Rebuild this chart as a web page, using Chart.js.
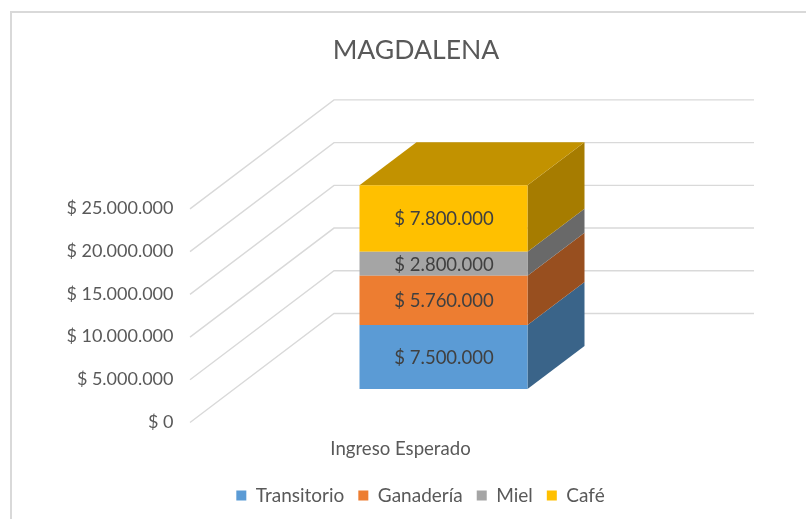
<!DOCTYPE html>
<html>
<head>
<meta charset="utf-8">
<style>html,body{margin:0;padding:0;background:#fff}canvas{display:block}</style>
<script src="https://cdn.jsdelivr.net/npm/chart.js@4"></script>
</head>
<body>
<canvas id="c" width="806" height="519"></canvas>
<script>
const categories = ['Ingreso Esperado'];
const seriesNames = ['Transitorio', 'Ganadería', 'Miel', 'Café'];
const transitorio = [7500000];
const ganaderia = [5760000];
const miel = [2800000];
const cafe = [7800000];
const frontColors = ['#5B9BD5', '#ED7D31', '#A5A5A5', '#FFC000'];
const sideColors = ['#3A6489', '#984F1F', '#696969', '#A67C00'];
const topColor = '#C29200';

const FONT = 'Lato';
const money = v => '$ ' + String(Math.round(v)).replace(/\B(?=(\d{3})+$)/g, '.');

const frame3d = {
  id: 'frame3d',
  afterLayout(chart) {
    const lg = chart.legend;
    lg.left += 4.5; lg.right += 4.5;
    lg.top += 3; lg.bottom += 3;
  },
  beforeDatasetsDraw(chart) {
    const {ctx, scales: {y}} = chart;
    ctx.save();
    ctx.strokeStyle = '#D9D9D9';
    ctx.lineWidth = 2;
    ctx.beginPath();
    ctx.moveTo(11, 519); ctx.lineTo(11, 12); ctx.lineTo(806, 12);
    ctx.stroke();
    ctx.lineWidth = 1.4;
    y.ticks.forEach(t => {
      const p = y.getPixelForValue(t.value);
      ctx.beginPath();
      ctx.moveTo(190, p + 33.5);
      ctx.lineTo(334, p - 75.5);
      ctx.lineTo(754, p - 75.5);
      ctx.stroke();
    });
    // side and top faces of the stack
    const dx = 57, dy = -43;
    let last = null;
    chart.data.datasets.forEach((ds, i) => {
      const b = chart.getDatasetMeta(i).data[0];
      const r = b.x + b.width / 2;
      ctx.fillStyle = sideColors[i];
      ctx.beginPath();
      ctx.moveTo(r, b.y); ctx.lineTo(r + dx, b.y + dy);
      ctx.lineTo(r + dx, b.base + dy); ctx.lineTo(r, b.base);
      ctx.closePath(); ctx.fill();
      last = b;
    });
    const l = last.x - last.width / 2, r = last.x + last.width / 2;
    ctx.fillStyle = topColor;
    ctx.beginPath();
    ctx.moveTo(l, last.y); ctx.lineTo(l + dx, last.y + dy);
    ctx.lineTo(r + dx, last.y + dy); ctx.lineTo(r, last.y);
    ctx.closePath(); ctx.fill();
    ctx.restore();
  },
  afterDatasetsDraw(chart) {
    const {ctx} = chart;
    ctx.save();
    ctx.fillStyle = '#404040';
    ctx.font = '18.5px ' + FONT;
    ctx.textAlign = 'center';
    ctx.textBaseline = 'middle';
    chart.data.datasets.forEach((ds, i) => {
      const b = chart.getDatasetMeta(i).data[0];
      ctx.fillText(money(ds.data[0]), b.x + 0.5, (b.y + b.base) / 2 + 1);
    });
    ctx.restore();
  }
};

new Chart(document.getElementById('c'), {
  type: 'bar',
  data: {
    labels: categories,
    datasets: [transitorio, ganaderia, miel, cafe].map((d, i) => ({
      label: seriesNames[i],
      data: d,
      backgroundColor: frontColors[i],
      borderWidth: 0,
      barPercentage: 0.4,
      categoryPercentage: 1
    }))
  },
  options: {
    responsive: false,
    animation: false,
    layout: {padding: {left: 26, right: 0, top: 0, bottom: 7}},
    plugins: {
      tooltip: {enabled: false},
      title: {
        display: true,
        text: 'MAGDALENA',
        color: '#595959',
        font: {family: FONT, size: 26.6, weight: 'normal'},
        padding: {top: 34, bottom: 109.5}
      },
      legend: {
        position: 'bottom',
        labels: {
          boxWidth: 10, boxHeight: 10, padding: 14, color: '#595959',
          font: {family: FONT, size: 19}
        }
      }
    },
    scales: {
      x: {
        stacked: true,
        grid: {display: false},
        border: {display: false},
        ticks: {
          color: '#595959', padding: 41, labelOffset: -43,
          font: {family: FONT, size: 18.6}, maxRotation: 0
        },
        afterFit(s) { s.height = 80; }
      },
      y: {
        stacked: true,
        min: 0, max: 25000000,
        grid: {display: false},
        border: {display: false},
        ticks: {
          stepSize: 5000000, color: '#595959', padding: 52, labelOffset: 33,
          font: {family: FONT, size: 18},
          callback: money
        },
        afterFit(s) { s.width = 207.5; }
      },
      pad: {
        type: 'linear', position: 'right', display: true,
        grid: {display: false}, border: {display: false},
        ticks: {display: false},
        afterFit(s) { s.width = 152.5; }
      }
    }
  },
  plugins: [frame3d]
});
</script>
</body>
</html>
